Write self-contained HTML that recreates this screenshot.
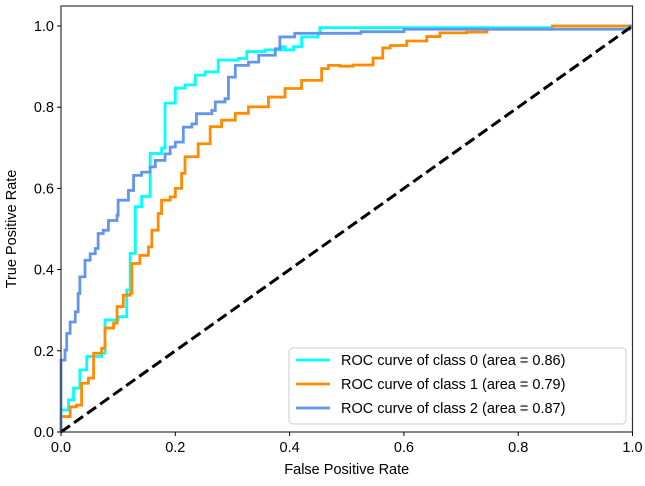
<!DOCTYPE html>
<html><head><meta charset="utf-8"><style>
body{margin:0;background:#fff;}
svg text{font-family:"Liberation Sans","DejaVu Sans",sans-serif;font-size:14.5px;fill:#000;}
</style></head><body>
<svg id="chart" width="645" height="481" xmlns="http://www.w3.org/2000/svg">
<g id="plot"></g>
</svg>
<script>
const class0Fpr=[0,0,.013,.022,.033,.045,.071,.077,.1,.115,.121,.13,.141,.156,.156,.176,.182,.2,.217,.235,.252,.275,.31,.325,.357,.386,.392,.407,.421,.45,.453,.86,.86,1];
const class0Tpr=[0,.054,.079,.108,.153,.186,.194,.276,.284,.35,.44,.555,.58,.584,.686,.699,.81,.847,.855,.879,.887,.916,.92,.937,.941,.949,.941,.949,.973,.982,.996,.996,1,1];
const class1Fpr=[0,0,.013,.016,.027,.036,.048,.057,.071,.077,.092,.098,.109,.121,.124,.138,.153,.159,.17,.176,.191,.2,.211,.217,.24,.261,.281,.305,.328,.363,.392,.421,.456,.468,.488,.511,.546,.563,.576,.605,.64,.663,.71,.745,.86,.86,1];
const class1Tpr=[0,.038,.038,.062,.066,.12,.133,.194,.206,.256,.268,.309,.337,.342,.415,.435,.456,.497,.538,.571,.579,.6,.637,.678,.71,.752,.768,.785,.801,.825,.846,.866,.895,.903,.901,.904,.921,.946,.952,.963,.974,.983,.985,.992,.992,1,1];
const class2Fpr=[0,0,.007,.01,.016,.025,.03,.033,.042,.051,.06,.065,.074,.083,.098,.1,.118,.127,.141,.156,.165,.182,.191,.2,.214,.229,.237,.264,.27,.287,.293,.305,.328,.346,.375,.383,.409,.525,.6,.995,.995,1];
const class2Tpr=[0,.177,.202,.243,.271,.296,.341,.382,.423,.439,.452,.489,.497,.521,.534,.571,.595,.632,.64,.653,.669,.685,.702,.714,.751,.759,.784,.792,.813,.821,.874,.903,.911,.928,.944,.973,.982,.986,.992,.992,1,1];
const seriesLabels=["ROC curve of class 0 (area = 0.86)","ROC curve of class 1 (area = 0.79)","ROC curve of class 2 (area = 0.87)"];
const tickValues=[0,0.2,0.4,0.6,0.8,1.0];
const tickLabels=["0.0","0.2","0.4","0.6","0.8","1.0"];

const X0=61,X1=632.5,Y0=432,Y1=26;
const sx=v=>X0+v*(X1-X0);
const sy=v=>Y0-v*(Y0-Y1);
const NS="http://www.w3.org/2000/svg";
const svg=document.getElementById('chart');
function mk(tag,attrs,parent){const e=document.createElementNS(NS,tag);for(const k in attrs)e.setAttribute(k,attrs[k]);(parent||svg).appendChild(e);return e;}

const series=[[class0Fpr,class0Tpr,"#00ffff"],[class1Fpr,class1Tpr,"#ff8c00"],[class2Fpr,class2Tpr,"#6495ed"]];
series.forEach((s,i)=>{
  let d="M"+sx(s[0][0])+","+sy(s[1][0]);
  for(let j=1;j<s[0].length;j++){d+=" H"+sx(s[0][j])+" V"+sy(s[1][j]);}
  const p=mk('path',{d:d,fill:'none',stroke:s[2],'stroke-width':2.8});
  
  
});
const diag=mk('line',{x1:sx(0),y1:sy(0),x2:sx(1),y2:sy(1),stroke:'#000','stroke-width':3,'stroke-dasharray':'11,5'});



const frame=mk('rect',{x:X0,y:6,width:X1-X0,height:Y0-6,fill:'none',stroke:'#333','stroke-width':1.2});



tickValues.forEach((v,i)=>{
  mk('line',{x1:sx(v),y1:Y0,x2:sx(v),y2:Y0+4,stroke:'#000','stroke-width':1});
  const tx=mk('text',{x:sx(v),y:Y0+20,'text-anchor':'middle'});tx.textContent=tickLabels[i];
  
  
  mk('line',{x1:X0-4,y1:sy(v),x2:X0,y2:sy(v),stroke:'#000','stroke-width':1});
  const ty=mk('text',{x:X0-7,y:sy(v)+5,'text-anchor':'end'});ty.textContent=tickLabels[i];
  
  
});
const xt=mk('text',{x:(X0+X1)/2,y:474,'text-anchor':'middle'});xt.textContent="False Positive Rate";


const yt=mk('text',{x:0,y:0,'text-anchor':'middle',transform:'translate(16,229) rotate(-90)'});yt.textContent="True Positive Rate";



const lg=mk('rect',{x:289,y:348,width:337,height:76,rx:4,fill:'#fff','fill-opacity':0.85,stroke:'#ccc','stroke-width':1});


series.forEach((s,i)=>{
  const y=360+i*24;
  const l=mk('line',{x1:296,y1:y,x2:330,y2:y,stroke:s[2],'stroke-width':2.8});
  
  
  const t=mk('text',{x:341,y:y+5});t.textContent=seriesLabels[i];
  
  
});
</script>
</body></html>
